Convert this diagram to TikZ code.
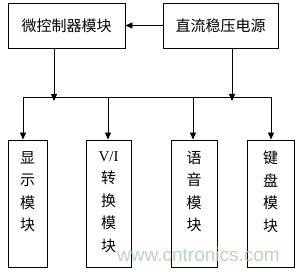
\documentclass[tikz,border=0pt]{standalone}
\usepackage{fontspec}
\setmainfont{Liberation Serif}
\newfontfamily\cjk{Noto Sans CJK SC}
\newfontfamily\wmfont{Liberation Sans}
\usetikzlibrary{arrows.meta}
\begin{document}
\begin{tikzpicture}[x=1pt,y=-1pt,
  blk/.style={draw,line width=0.9pt,rectangle,inner sep=0pt},
  conn/.style={line width=0.9pt},
  arr/.style={conn,-{Triangle[length=7pt,width=6pt]}},
  htext/.style={font=\cjk\fontsize{15}{15}\selectfont},
  vtext/.style={font=\cjk\fontsize{15}{22.5}\selectfont,align=center,anchor=north,inner sep=0pt}]
\useasboundingbox (0,0) rectangle (300,272);
% top boxes
\node[blk,minimum width=117pt,minimum height=45pt,htext] (mcu) at (66.5,25.5) {微控制器模块};
\node[blk,minimum width=115pt,minimum height=45pt,htext] (psu) at (220.5,25.5) {直流稳压电源};
\draw[arr] (psu.west) -- (mcu.east);
% bottom boxes
\node[blk,minimum width=39pt,minimum height=127pt] (disp) at (27.5,203.5) {};
\node[blk,minimum width=45pt,minimum height=127pt] (vi) at (108.5,203.5) {};
\node[blk,minimum width=46pt,minimum height=127pt] (voice) at (194,203.5) {};
\node[blk,minimum width=47pt,minimum height=127pt] (key) at (270.5,203.5) {};
\node[vtext] (tdisp) at (27.5,151) {显\\示\\模\\块};
\node[vtext] (tvi) at (108.5,151) {{\fontspec{Liberation Serif}V/I}\\转\\换\\模\\块};
\node[vtext] (tvoice) at (194,151) {语\\音\\模\\块};
\node[vtext] (tkey) at (270.5,151) {键\\盘\\模\\块};
% bus
\coordinate (b1) at (23,97);
\coordinate (b2) at (108,97);
\coordinate (b3) at (193,97);
\coordinate (b4) at (271,97);
\coordinate (m1) at (54,97);
\coordinate (m2) at (232,97);
\draw[arr] (mcu.south -| m1) -- ([yshift=-4pt]m1);
\draw[arr] (psu.south -| m2) -- ([yshift=-4pt]m2);
\draw[conn] (b1) -- (b4);
\draw[arr] (b1) -- (disp.north -| b1);
\draw[arr] (b2) -- (vi.north -| b2);
\draw[arr] (b3) -- (voice.north -| b3);
\draw[arr] (b4) -- (key.north -| b4);
% watermark
\node[font=\wmfont\fontsize{19}{19}\selectfont,text=green!45!black!35!white,opacity=0.8,inner sep=0pt] (wm) at (198.5,255) {www.cntronics.com};
\end{tikzpicture}
\end{document}
